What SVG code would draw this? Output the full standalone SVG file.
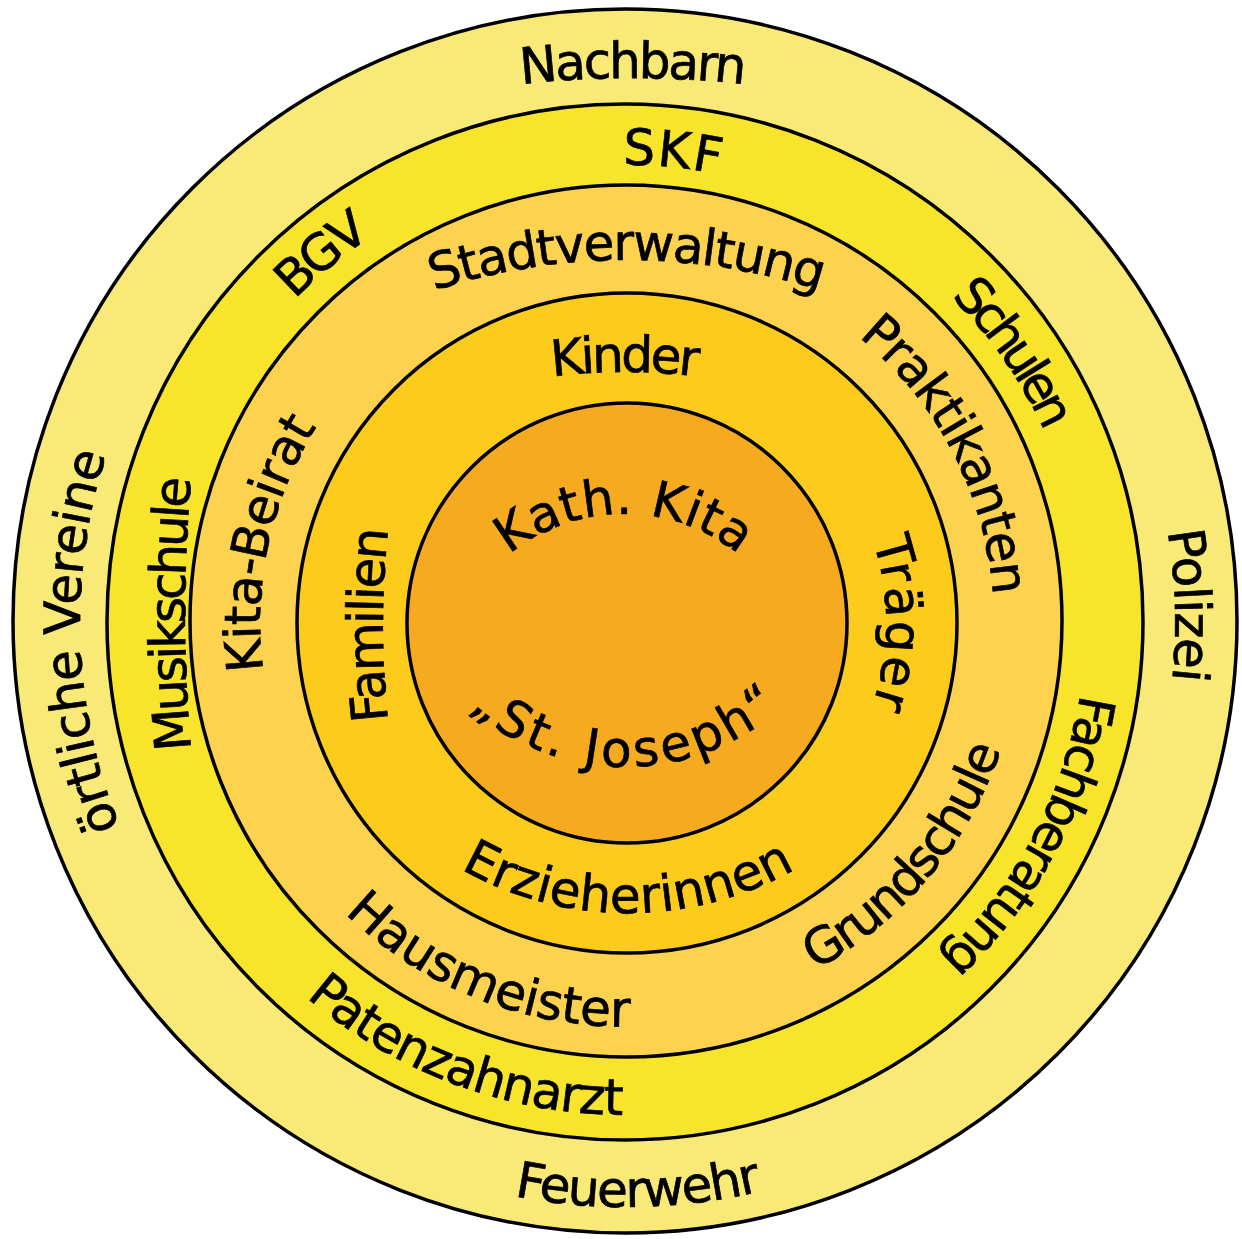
<svg xmlns="http://www.w3.org/2000/svg" xmlns:xlink="http://www.w3.org/1999/xlink" width="1242" height="1239" viewBox="0 0 1242 1239">
<style>
.ring{stroke:#000;stroke-width:3.5}
.lbl{font-family:"DejaVu Sans","Liberation Sans",sans-serif;font-size:50px;fill:#000;stroke:#000;stroke-width:0.7}
</style>
<defs>
<path id="pNach" d="M 291 138.3 A 1000 1000 0 0 1 975 138.3"/>
<path id="p546" d="M 88.3 527.2 A 546 546 0 0 1 1163.7 527.2"/>
<path id="p549" d="M 85.3 526.7 A 549 549 0 0 1 1166.7 526.7"/>
<path id="b585" d="M 49.9 723.6 A 585 585 0 0 0 1202.1 723.6"/>
<path id="p457" d="M 175.9 542.6 A 457 457 0 0 1 1076.1 542.6"/>
<path id="p460" d="M 173.0 542.1 A 460 460 0 0 1 1079.0 542.1"/>
<path id="p462" d="M 171.0 541.8 A 462 462 0 0 1 1081.0 541.8"/>
<path id="pMusik" d="M 207.8 874.5 A 1500 1500 0 0 1 207.8 353.5"/>
<path id="b493" d="M 140.5 707.6 A 493 493 0 0 0 1111.5 707.6"/>
<path id="pStadt" d="M 271.4 372.1 A 620 620 0 0 1 982.6 372.1"/>
<path id="p368" d="M 263.6 558.1 A 368 368 0 0 1 988.4 558.1"/>
<path id="p366" d="M 265.6 558.4 A 366 366 0 0 1 986.4 558.4"/>
<path id="b396" d="M 236.0 690.8 A 396 396 0 0 0 1016.0 690.8"/>
<path id="b405" d="M 227.2 692.3 A 405 405 0 0 0 1024.8 692.3"/>
<path id="pKind" d="M 325 452.4 A 600 600 0 0 1 925 452.4"/>
<path id="p260" d="M 369.95 576.85 A 260 260 0 0 1 882.05 576.85"/>
<path id="pFam" d="M 413.7 857.9 A 900 900 0 0 1 413.7 392.1"/>
<path id="bErz" d="M 367.5 791.6 A 340 340 0 0 0 888.5 791.6"/>
<path id="kath" d="M 443.8 665.2 A 183 183 0 0 1 804.2 665.2"/>
<path id="jos" d="M 392.6 572.0 A 236 236 0 0 0 857.4 572.0"/>
</defs>

<g id="ring-outer">
<circle class="ring" cx="625" cy="621" r="612" fill="#F9EA78"/>
<text class="lbl" text-anchor="middle"><textPath href="#pNach" xlink:href="#pNach" startOffset="50%" textLength="224" lengthAdjust="spacing">Nachbarn</textPath></text>
<text class="lbl" text-anchor="middle" transform="rotate(88.3 626 622)"><textPath href="#p549" xlink:href="#p549" startOffset="50%" textLength="150" lengthAdjust="spacing">Polizei</textPath></text>
<text class="lbl" text-anchor="middle" transform="rotate(-92.1 626 622)"><textPath href="#p546" xlink:href="#p546" startOffset="50%" textLength="380" lengthAdjust="spacing">örtliche Vereine</textPath></text>
<text class="lbl" text-anchor="middle" transform="rotate(-1.2 626 622)"><textPath href="#b585" xlink:href="#b585" startOffset="50%" textLength="250" lengthAdjust="spacing">Feuerwehr</textPath></text>
</g>

<g id="ring-2">
<circle class="ring" cx="625" cy="622" r="518" fill="#F8E52B"/>
<text class="lbl" text-anchor="middle" transform="rotate(5.7 626 622)"><textPath href="#p457" xlink:href="#p457" startOffset="50%" textLength="97" lengthAdjust="spacing">SKF</textPath></text>
<text class="lbl" text-anchor="middle" transform="rotate(55.25 626 622)"><textPath href="#p460" xlink:href="#p460" startOffset="50%" textLength="165" lengthAdjust="spacing">Schulen</textPath></text>
<text class="lbl" text-anchor="middle" transform="rotate(-39.6 626 622)"><textPath href="#p462" xlink:href="#p462" startOffset="50%" textLength="100" lengthAdjust="spacing">BGV</textPath></text>
<text class="lbl" text-anchor="middle"><textPath href="#pMusik" xlink:href="#pMusik" startOffset="50%" textLength="272" lengthAdjust="spacing">Musikschule</textPath></text>
<text class="lbl" text-anchor="middle" transform="rotate(118 626 622)"><textPath href="#p460" xlink:href="#p460" startOffset="50%" textLength="305" lengthAdjust="spacing">Fachberatung</textPath></text>
<text class="lbl" text-anchor="middle" transform="rotate(20.4 626 622)"><textPath href="#b493" xlink:href="#b493" startOffset="50%" textLength="345" lengthAdjust="spacing">Patenzahnarzt</textPath></text>
</g>

<g id="ring-3">
<circle class="ring" cx="626" cy="621" r="436" fill="#FDD24F"/>
<text class="lbl" text-anchor="middle"><textPath href="#pStadt" xlink:href="#pStadt" startOffset="50%" textLength="392" lengthAdjust="spacing">Stadtverwaltung</textPath></text>
<text class="lbl" text-anchor="middle" transform="rotate(62.5 626 622)"><textPath href="#p368" xlink:href="#p368" startOffset="50%" textLength="300" lengthAdjust="spacing">Praktikanten</textPath></text>
<text class="lbl" text-anchor="middle" transform="rotate(-77.7 626 622)"><textPath href="#p366" xlink:href="#p366" startOffset="50%" textLength="255" lengthAdjust="spacing">Kita-Beirat</textPath></text>
<text class="lbl" text-anchor="middle" transform="rotate(-49.9 626 622)"><textPath href="#b396" xlink:href="#b396" startOffset="50%" textLength="295" lengthAdjust="spacing">Grundschule</textPath></text>
<text class="lbl" text-anchor="middle" transform="rotate(21.7 626 622)"><textPath href="#b405" xlink:href="#b405" startOffset="50%" textLength="315" lengthAdjust="spacing">Hausmeister</textPath></text>
</g>

<g id="ring-4">
<circle class="ring" cx="627" cy="623" r="330" fill="#FCCB1C"/>
<text class="lbl" text-anchor="middle"><textPath href="#pKind" xlink:href="#pKind" startOffset="50%" textLength="146" lengthAdjust="spacing">Kinder</textPath></text>
<text class="lbl" text-anchor="middle" transform="rotate(90.3 626 622)"><textPath href="#p260" xlink:href="#p260" startOffset="50%" textLength="168" lengthAdjust="spacing">Träger</textPath></text>
<text class="lbl" text-anchor="middle"><textPath href="#pFam" xlink:href="#pFam" startOffset="50%" textLength="192" lengthAdjust="spacing">Familien</textPath></text>
<text class="lbl" text-anchor="middle"><textPath href="#bErz" xlink:href="#bErz" startOffset="50%" textLength="350" lengthAdjust="spacing">Erzieherinnen</textPath></text>
</g>

<g id="center">
<circle class="ring" cx="627" cy="623" r="220" fill="#F6AA1F"/>
<text class="lbl" text-anchor="middle"><textPath href="#kath" xlink:href="#kath" startOffset="50%" textLength="248" lengthAdjust="spacing">Kath. Kita</textPath></text>
<text class="lbl" text-anchor="middle"><textPath href="#jos" xlink:href="#jos" startOffset="50%" textLength="340" lengthAdjust="spacing">„St. Joseph“</textPath></text>
</g>
</svg>
